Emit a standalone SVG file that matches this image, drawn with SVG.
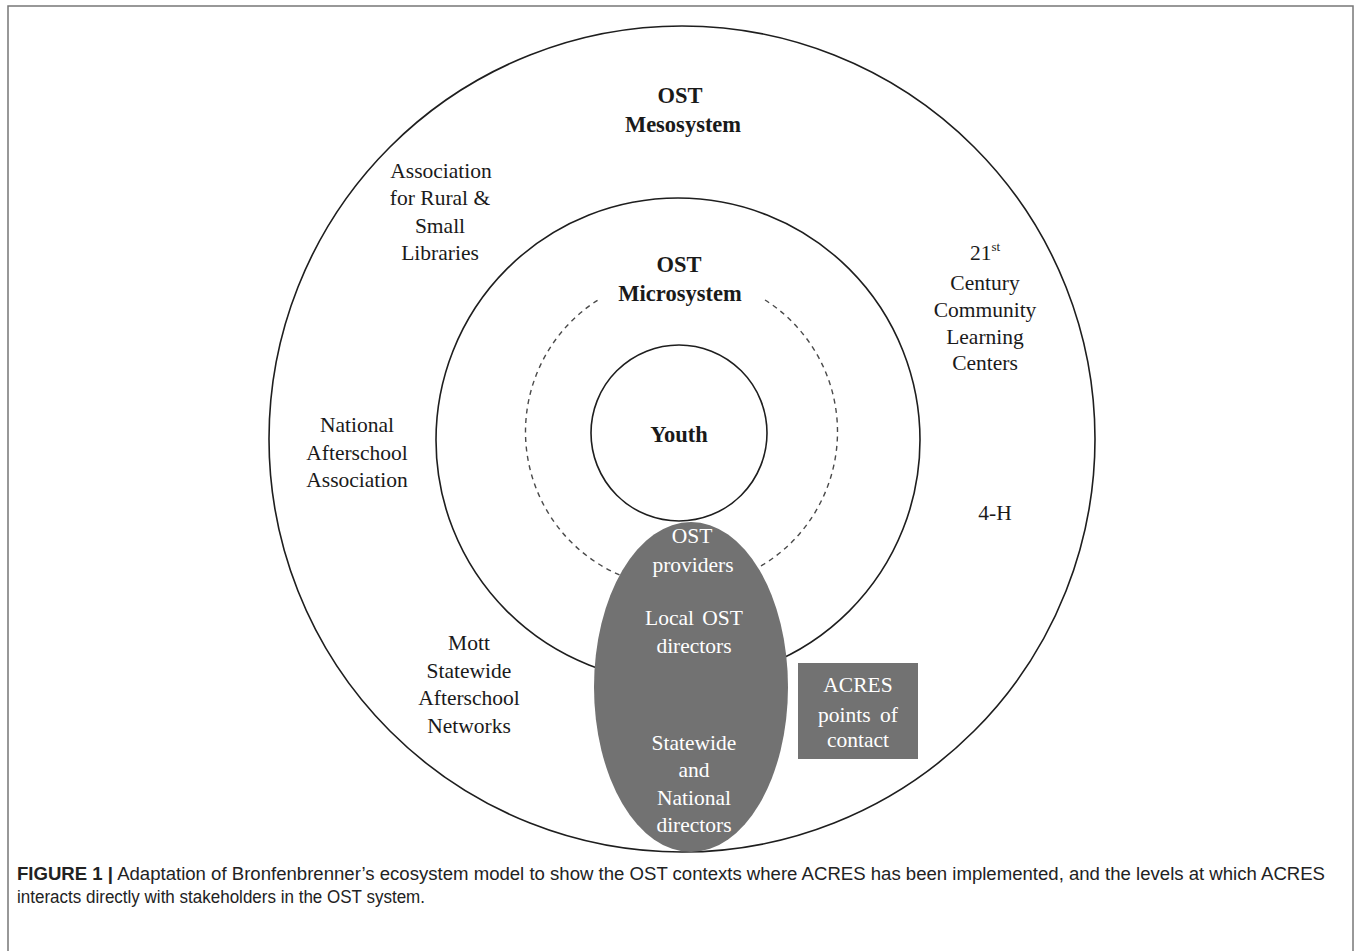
<svg xmlns="http://www.w3.org/2000/svg" width="1356" height="951" viewBox="0 0 1356 951">
<style>
.ring{fill:none;stroke:#1e1e1e;stroke-width:1.6}
.dash{fill:none;stroke:#4a4a4a;stroke-width:1.4;stroke-dasharray:5 4.5}
.t{font-family:"Liberation Serif","Times New Roman",serif;font-size:21.5px;fill:#1a1a1a;text-anchor:middle}
.b{font-weight:bold;font-size:22.5px}
.w{fill:#ffffff}
.gray{fill:#727272}
.cap{font-family:"Liberation Sans",Arial,sans-serif;font-size:17.5px;fill:#222}
</style>
<rect x="0" y="0" width="1356" height="951" fill="#ffffff"/>
<rect x="8" y="6" width="1345" height="980" fill="none" stroke="#777" stroke-width="1.5"/>

<g id="mesosystem">
<circle class="ring" cx="682" cy="439" r="413"/>
<text class="t b" x="680" y="103">OST</text>
<text class="t b" x="683" y="132">Mesosystem</text>
</g>

<g id="microsystem">
<circle class="ring" cx="678" cy="440" r="242"/>
<text class="t b" x="679" y="272">OST</text>
<text class="t b" x="680" y="301">Microsystem</text>
</g>

<g id="providers-ring">
<path class="dash" d="M765,300 A156,156 0 1 1 598,300"/>
</g>

<g id="youth">
<circle class="ring" cx="679" cy="433" r="88"/>
<text class="t b" x="679" y="442">Youth</text>
</g>

<g id="arsl">
<text class="t" x="441" y="178">Association</text>
<text class="t" x="440" y="205">for Rural &amp;</text>
<text class="t" x="440" y="233">Small</text>
<text class="t" x="440" y="260">Libraries</text>
</g>

<g id="cclc">
<text class="t" x="985" y="260">21<tspan font-size="13" dy="-9">st</tspan></text>
<text class="t" x="985" y="290">Century</text>
<text class="t" x="985" y="317">Community</text>
<text class="t" x="985" y="344">Learning</text>
<text class="t" x="985" y="370">Centers</text>
</g>

<g id="fourh">
<text class="t" x="995" y="520">4-H</text>
</g>

<g id="naa">
<text class="t" x="357" y="432">National</text>
<text class="t" x="357" y="460">Afterschool</text>
<text class="t" x="357" y="487">Association</text>
</g>

<g id="mott">
<text class="t" x="469" y="650">Mott</text>
<text class="t" x="469" y="678">Statewide</text>
<text class="t" x="469" y="705">Afterschool</text>
<text class="t" x="469" y="733">Networks</text>
</g>

<g id="stakeholders">
<ellipse class="gray" cx="691" cy="687" rx="97" ry="165"/>
<text class="t w" x="692" y="543">OST</text>
<text class="t w" x="693" y="572">providers</text>
<text class="t w" x="694" y="625" word-spacing="3">Local OST</text>
<text class="t w" x="694" y="653">directors</text>
<text class="t w" x="694" y="750">Statewide</text>
<text class="t w" x="694" y="777">and</text>
<text class="t w" x="694" y="805">National</text>
<text class="t w" x="694" y="832">directors</text>
</g>

<g id="acres">
<rect class="gray" x="798" y="663" width="120" height="96"/>
<text class="t w" x="858" y="692">ACRES</text>
<text class="t w" x="858" y="722" word-spacing="4">points of</text>
<text class="t w" x="858" y="747">contact</text>
</g>

<g id="connectors"></g>

<g id="caption">
<text class="cap" x="17" y="880" textLength="1308" lengthAdjust="spacingAndGlyphs"><tspan font-weight="bold">FIGURE 1 |</tspan> Adaptation of Bronfenbrenner’s ecosystem model to show the OST contexts where ACRES has been implemented, and the levels at which ACRES</text>
<text class="cap" x="17" y="903" textLength="408" lengthAdjust="spacingAndGlyphs">interacts directly with stakeholders in the OST system.</text>
</g>
</svg>
